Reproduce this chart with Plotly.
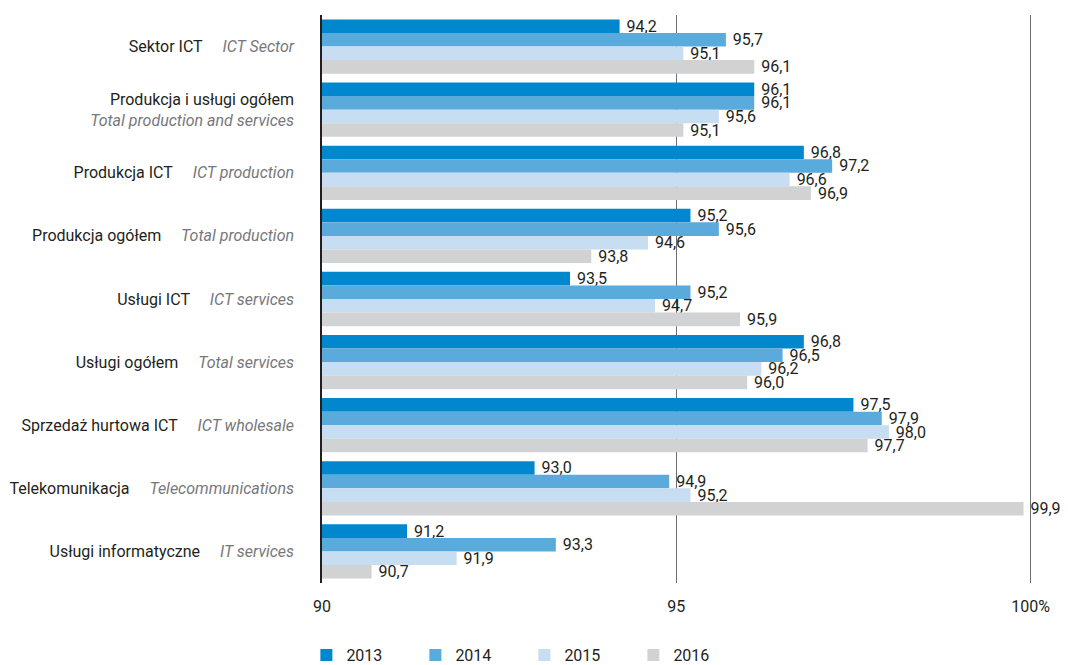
import plotly.graph_objects as go

categories_pl = ["Sektor ICT", "Produkcja i usługi ogółem", "Produkcja ICT", "Produkcja ogółem",
                 "Usługi ICT", "Usługi ogółem", "Sprzedaż hurtowa ICT", "Telekomunikacja",
                 "Usługi informatyczne"]
categories_en = ["ICT Sector", "Total production and services", "ICT production", "Total production",
                 "ICT services", "Total services", "ICT wholesale", "Telecommunications",
                 "IT services"]
years = ["2013", "2014", "2015", "2016"]
v2013 = [94.2, 96.1, 96.8, 95.2, 93.5, 96.8, 97.5, 93.0, 91.2]
v2014 = [95.7, 96.1, 97.2, 95.6, 95.2, 96.5, 97.9, 94.9, 93.3]
v2015 = [95.1, 95.6, 96.6, 94.6, 94.7, 96.2, 98.0, 95.2, 91.9]
v2016 = [96.1, 95.1, 96.9, 93.8, 95.9, 96.0, 97.7, 99.9, 90.7]
series = [v2013, v2014, v2015, v2016]
colors = ["#0087CD", "#5AAADC", "#C6DDF2", "#D1D2D4"]
tick_vals = [90, 95, 100]
tick_text = ["90", "95", "100%"]

FONT = "Roboto, Liberation Sans, sans-serif"
SP = "\u00a0" * 5

labels = []
for pl, en in zip(categories_pl, categories_en):
    sep = "<br>" if len(pl) + len(en) > 40 else SP
    labels.append(f"<span style='color:#231F20'>{pl}</span>{sep}"
                  f"<span style='color:#77787B'><i>{en}</i></span>")

fig = go.Figure()
for name, vals, col in zip(years, series, colors):
    fig.add_trace(go.Bar(
        y=labels, x=vals, name=name, orientation="h",
        marker=dict(color=col, line=dict(width=0)),
        texttemplate="\u00a0%{x:.1f}", textposition="outside",
        constraintext="none", cliponaxis=False,
        textfont=dict(size=16, color="#231F20", family=FONT),
    ))

# page body adds an 8px margin, so the figure is 8px smaller than the window
fig.update_layout(
    width=1060, height=657,
    barmode="group", bargap=0.14, bargroupgap=0,
    separators=", ",
    paper_bgcolor="white", plot_bgcolor="white",
    margin=dict(l=314, r=36, t=7, b=82, autoexpand=False),
    font=dict(family=FONT, size=16, color="#231F20"),
    legend=dict(orientation="h", x=-0.022, xanchor="left", y=-0.1567, yanchor="bottom",
                traceorder="normal", entrywidth=64, entrywidthmode="pixels",
                font=dict(size=16, color="#231F20", family=FONT)),
    showlegend=True,
)
fig.update_xaxes(range=[90, 100.02], tickvals=tick_vals, ticktext=tick_text,
                 showgrid=True, gridcolor="#6D6E71", gridwidth=1,
                 zeroline=False, showline=False, ticks="", ticklabelstandoff=12,
                 automargin=False,
                 tickfont=dict(size=16, color="#231F20", family=FONT))
fig.update_yaxes(autorange="reversed", showline=True, linecolor="#231F20", linewidth=1.5,
                 ticks="", showgrid=False, ticklabelstandoff=23, automargin=False,
                 tickfont=dict(size=16, family=FONT))

fig.write_html("out.html")
